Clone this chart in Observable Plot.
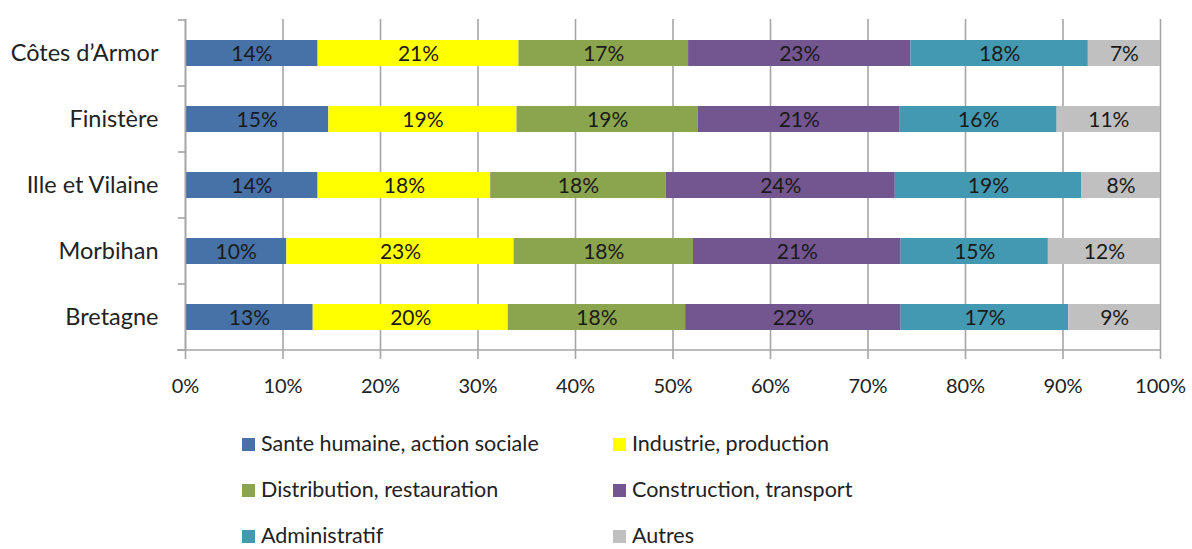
<!DOCTYPE html>
<html><head><meta charset="utf-8">
<script src="https://cdn.jsdelivr.net/npm/d3@7"></script>
<script src="https://cdn.jsdelivr.net/npm/@observablehq/plot@0.6"></script>
<style>
html,body{margin:0;padding:0;background:#fff;overflow:hidden;}
body{font-family:Lato, "Open Sans", sans-serif;width:1192px;height:549px;position:relative;}
#legend{position:absolute;left:242px;top:421px;display:grid;grid-template-columns:371px 300px;grid-auto-rows:46px;font-size:21.5px;line-height:1;color:#222;}
.item{display:flex;align-items:center;}
.sw{width:13px;height:13px;margin-right:6px;flex:none;}
</style></head><body><div id="chart"></div><div id="legend"></div>
<script>
const departements = ["Côtes d’Armor", "Finistère", "Ille et Vilaine", "Morbihan", "Bretagne"];
const secteurs = ["Sante humaine, action sociale", "Industrie, production", "Distribution, restauration", "Construction, transport", "Administratif", "Autres"];
const couleurs = ["#4672a8", "#ffff00", "#8aa54e", "#735590", "#4399b1", "#c0c0c0"];
const sante = [13.6, 14.7, 13.6, 10.4, 13.1];
const industrie = [20.6, 19.3, 17.7, 23.3, 20.0];
const distribution = [17.4, 18.6, 18.0, 18.4, 18.2];
const construction = [22.8, 20.7, 23.5, 21.3, 22.1];
const administratif = [18.2, 16.1, 19.1, 15.1, 17.2];
const autres = [7.4, 10.6, 8.1, 11.5, 9.4];
const xTicks = [0, 10, 20, 30, 40, 50, 60, 70, 80, 90, 100];

const series = [sante, industrie, distribution, construction, administratif, autres];
const data = [];
departements.forEach((dep, i) => {
  series.forEach((s, j) => data.push({dep, secteur: secteurs[j], value: s[i]}));
});

const gray = "#a6a6a6";
const chart = Plot.plot({
  width: 1192,
  height: 405,
  marginTop: 19,
  marginBottom: 54,
  marginLeft: 185,
  marginRight: 32,
  style: {fontFamily: "Lato, 'Open Sans', sans-serif", color: "#222", background: "#fff"},
  x: {domain: [0, 100], label: null},
  y: {domain: departements, paddingInner: 0.61, paddingOuter: 0.305, label: null},
  color: {domain: secteurs, range: couleurs},
  marks: [
    Plot.gridX(xTicks, {stroke: gray, strokeOpacity: 1, strokeWidth: 1.6}),
    Plot.barX(data, Plot.stackX({x: "value", y: "dep", fill: "secteur", z: "secteur"})),
    Plot.text(data, Plot.stackX({x: "value", y: "dep", z: "secteur", text: d => Math.round(d.value) + "%", fontSize: 21, fill: "#1a1a1a", dy: 1})),
    Plot.ruleX([0], {stroke: gray, strokeWidth: 1.6}),
    Plot.axisX({ticks: xTicks, tickFormat: d => d + "%", tickSize: 8, tickPadding: 19, fontSize: 20, stroke: gray, strokeWidth: 1.6, strokeOpacity: 1, fill: "#222", label: null}),
    Plot.axisY({tickSize: 0, tickPadding: 27, fontSize: 23.5, fill: "#222", label: null})
  ]
});
document.getElementById("chart").appendChild(chart);

// axis line at bottom and category-boundary ticks on the y axis, derived from the scales
const xs = chart.scale("x"), ys = chart.scale("y");
const svg = d3.select(chart);
const x0 = xs.apply(0), x100 = xs.apply(100);
const step = ys.step, bw = ys.bandwidth;
const bounds = departements.map(d => ys.apply(d) - (step - bw) / 2);
bounds.push(bounds[bounds.length - 1] + step);
const g = svg.append("g").attr("stroke", gray).attr("stroke-width", 1.6);
g.append("line").attr("x1", x0 - 8).attr("x2", x100).attr("y1", bounds[bounds.length - 1]).attr("y2", bounds[bounds.length - 1]);
bounds.forEach(b => g.append("line").attr("x1", x0 - 7).attr("x2", x0).attr("y1", b).attr("y2", b));

const legend = document.getElementById("legend");
secteurs.forEach((s, i) => {
  const it = document.createElement("div");
  it.className = "item";
  it.innerHTML = `<span class="sw" style="background:${couleurs[i]}"></span><span>${s}</span>`;
  legend.appendChild(it);
});
</script>
</body></html>
